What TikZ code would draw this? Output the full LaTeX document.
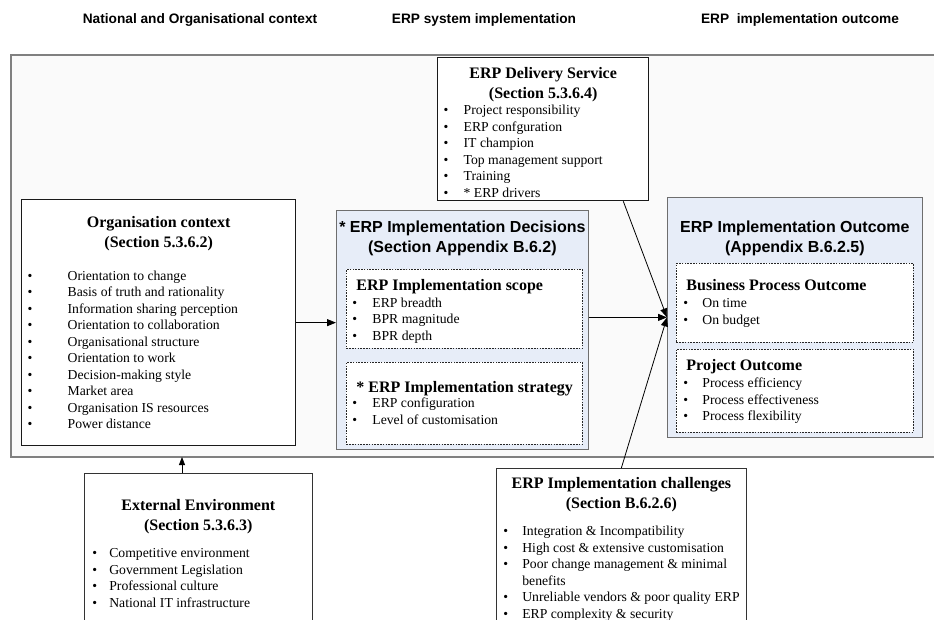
\documentclass[tikz,border=0pt]{standalone}
\usepackage{fontspec}
\setmainfont{Liberation Serif}
\newfontfamily\hdfont{Liberation Sans}
\usetikzlibrary{arrows.meta,calc}
\definecolor{frameback}{RGB}{250,250,250}
\definecolor{framegray}{RGB}{128,128,128}
\definecolor{decblue}{RGB}{231,237,248}
\definecolor{decgray}{RGB}{110,110,110}
\newlength\bultoff
\newlength\txtoff
\newcommand{\itemfont}{\fontsize{13.7}{16.5}\selectfont\mdseries}
\newcommand{\ttlfont}{\fontsize{16}{20}\selectfont\bfseries}
\newcommand{\hdttl}{\hdfont\fontsize{16}{20}\selectfont\bfseries}
\newcommand{\bitem}[1]{\par\noindent\hangindent=\txtoff\hangafter=1\hspace*{\bultoff}\makebox[\dimexpr\txtoff-\bultoff\relax][l]{\textbullet}#1}
\newcommand{\boxbody}[5]{\parbox[c][#2][t]{#1}{\lineskiplimit=-50pt\setlength\bultoff{#3}\setlength\txtoff{#4}#5}}

\begin{document}
\begin{tikzpicture}[x=1pt,y=-1pt,
  plainbox/.style={draw=black!90,line width=1.3pt,fill=white,inner sep=0pt,anchor=north west},
  thinbox/.style={draw=black!80,line width=0.7pt,fill=white,inner sep=0pt,anchor=north west},
  bluebox/.style={draw=decgray,line width=0.8pt,fill=decblue,inner sep=0pt,anchor=north west},
  dotbox/.style={draw=black!85,line width=0.9pt,dash pattern=on 1.6pt off 1.2pt,fill=white,inner sep=0pt,anchor=north west},
  header/.style={font=\hdfont\fontsize{13.7}{16}\selectfont\bfseries,inner sep=0pt},
  flow/.style={-{Triangle[length=9pt,width=7pt]},line width=0.8pt}]
\useasboundingbox (0,0) rectangle (934,620);
\clip (0,0) rectangle (934,620);
\fill[white] (0,0) rectangle (934,620);
\filldraw[fill=frameback,draw=framegray,line width=1.5pt] (11,55) rectangle (950,457);
\node[header] (hnat) at (200,20) {National and Organisational context};
\node[header] (hsys) at (484,20) {ERP system implementation};
\node[header] (hout) at (800,20) {ERP~ implementation outcome};

\node[plainbox] (deliv) at (437,57) {\boxbody{211pt}{143pt}{6pt}{26pt}{%
  \centering\ttlfont\rule{0pt}{20.5pt}ERP Delivery Service\\(Section 5.3.6.4)\par
  \raggedright\itemfont
  \bitem{Project responsibility}\bitem{ERP confguration}\bitem{IT champion}%
  \bitem{Top management support}\bitem{Training}\bitem{* ERP drivers}\par}};

\node[plainbox] (org) at (21,199) {\boxbody{274pt}{246pt}{6pt}{46pt}{%
  \centering\ttlfont\rule{0pt}{27.5pt}Organisation context\\(Section 5.3.6.2)\par
  \vspace{16.5pt}\raggedright\itemfont
  \bitem{Orientation to change}\bitem{Basis of truth and rationality}%
  \bitem{Information sharing perception}\bitem{Orientation to collaboration}%
  \bitem{Organisational structure}\bitem{Orientation to work}%
  \bitem{Decision-making style}\bitem{Market area}%
  \bitem{Organisation IS resources}\bitem{Power distance}\par}};

\node[bluebox] (dec) at (336,210) {\boxbody{252pt}{239pt}{0pt}{0pt}{%
  \centering\hdttl\rule{0pt}{22.5pt}* ERP Implementation Decisions\\(Section Appendix B.6.2)\par}};
\node[dotbox] (scope) at (346,269) {\boxbody{236pt}{79pt}{6pt}{26pt}{%
  \raggedright\ttlfont\hspace*{10pt}\rule{0pt}{21.5pt}ERP Implementation scope\par
  \itemfont\bitem{ERP breadth}\bitem{BPR magnitude}\bitem{BPR depth}\par}};
\node[dotbox] (strat) at (346,362) {\boxbody{236pt}{82pt}{6pt}{26pt}{%
  \raggedright\ttlfont\hspace*{10pt}\rule{0pt}{30.5pt}* ERP Implementation strategy\par
  \vspace{-1.5pt}\itemfont\bitem{ERP configuration}\bitem{Level of customisation}\par}};

\node[bluebox] (out) at (667,197) {\boxbody{255pt}{240pt}{0pt}{0pt}{%
  \centering\hdttl\rule{0pt}{35.5pt}ERP Implementation Outcome\\(Appendix B.6.2.5)\par}};
\node[dotbox] (bpo) at (676,263) {\boxbody{237pt}{79pt}{7pt}{26pt}{%
  \raggedright\ttlfont\hspace*{10pt}\rule{0pt}{27.5pt}Business Process Outcome\par
  \vspace{0.5pt}\itemfont\bitem{On time}\bitem{On budget}\par}};
\node[dotbox] (proj) at (676,349) {\boxbody{237pt}{83pt}{7pt}{26pt}{%
  \raggedright\ttlfont\hspace*{10pt}\rule{0pt}{21.5pt}Project Outcome\par
  \vspace{0.5pt}\itemfont\bitem{Process efficiency}\bitem{Process effectiveness}%
  \bitem{Process flexibility}\par}};

\node[thinbox] (ext) at (84,473) {\boxbody{228pt}{170pt}{8pt}{25pt}{%
  \centering\ttlfont\rule{0pt}{37.5pt}External Environment\\(Section 5.3.6.3)\par
  \vspace{10.5pt}\raggedright\itemfont
  \bitem{Competitive environment}\bitem{Government Legislation}%
  \bitem{Professional culture}\bitem{National IT infrastructure}\par}};

\node[thinbox] (chal) at (496,468) {\boxbody{250pt}{170pt}{7pt}{26pt}{%
  \centering\ttlfont\rule{0pt}{20.5pt}ERP Implementation challenges\\(Section B.6.2.6)\par
  \vspace{10.5pt}\raggedright\itemfont
  \bitem{Integration \& Incompatibility}\bitem{High cost \& extensive customisation}%
  \bitem{Poor change management \& minimal\newline benefits}%
  \bitem{Unreliable vendors \& poor quality ERP}\bitem{ERP complexity \& security}\par}};

\coordinate (delivfoot) at ($(deliv.south east)+(-26,0)$);
\coordinate (framefoot) at (182,457);
\draw[flow] (org.east) -- (org.east -| dec.west);
\draw[flow] (dec.east |- out.west) -- (out.west);
\draw[flow] (delivfoot) -- (out.west);
\draw[flow] (chal.north) -- (out.west);
\draw[-{Triangle[length=8pt,width=6pt]},line width=0.8pt] (ext.north -| framefoot) -- (framefoot);
\end{tikzpicture}
\end{document}
